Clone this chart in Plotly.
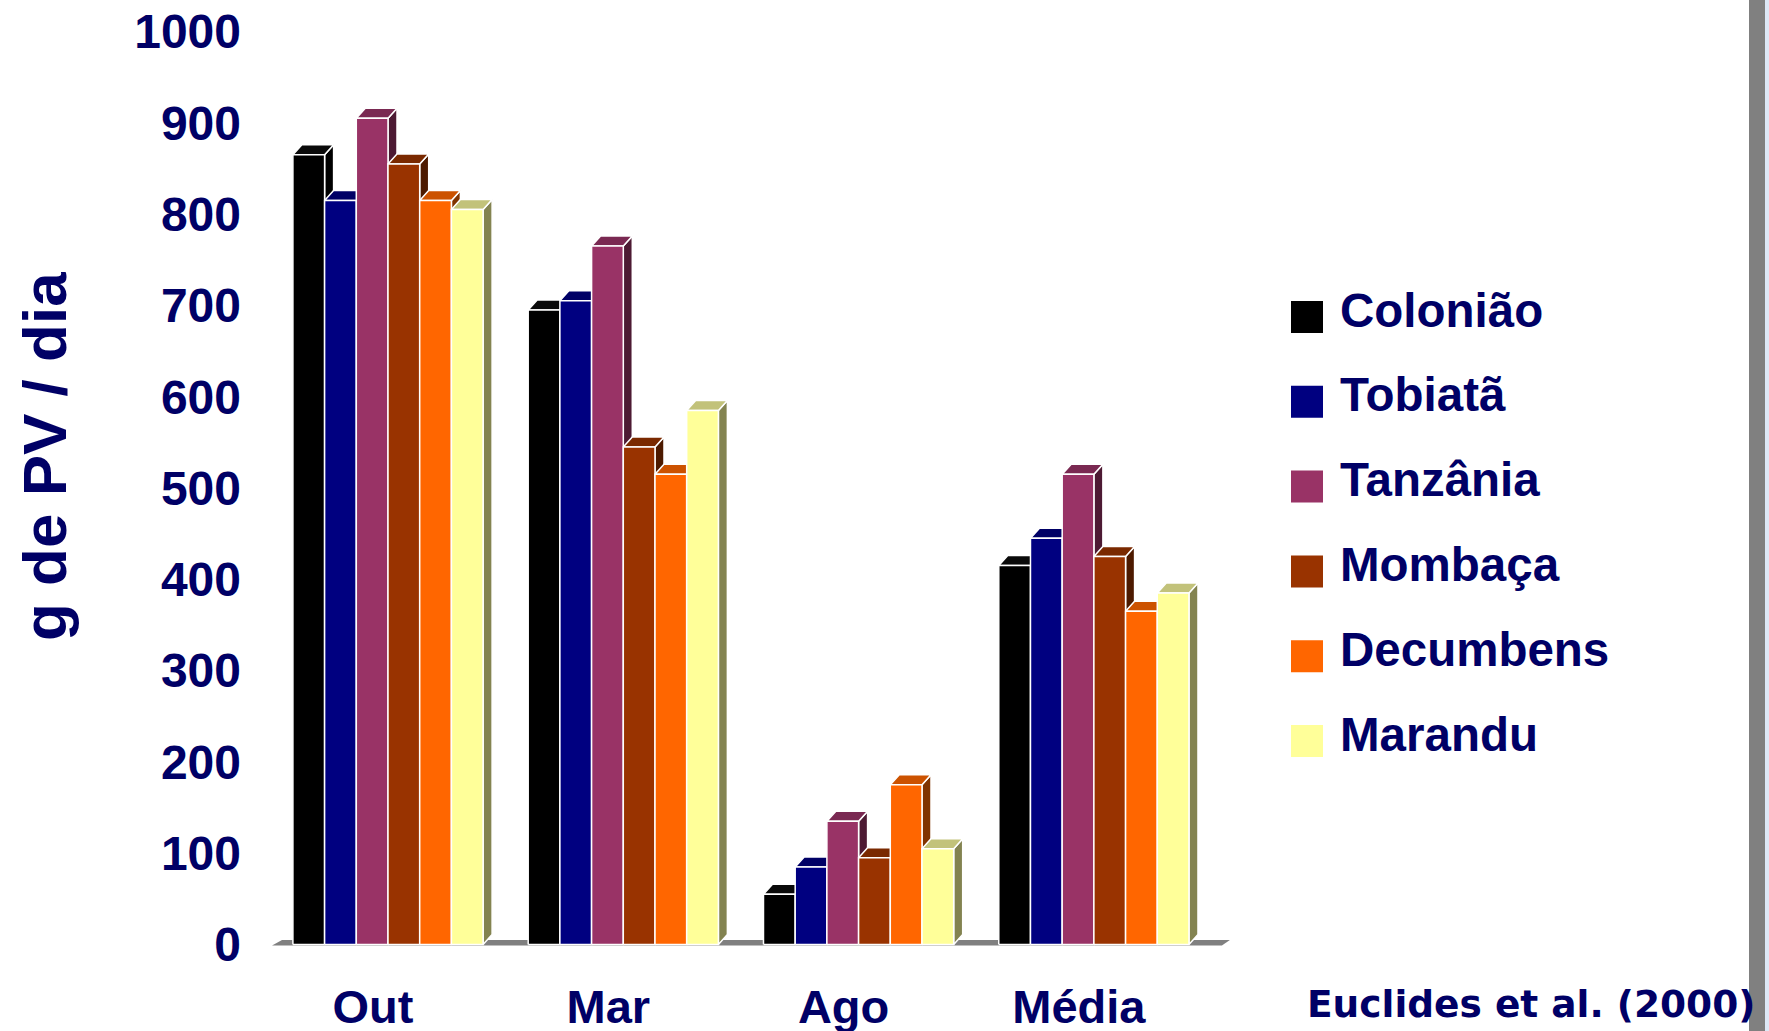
import plotly.graph_objects as go

# ---- data -------------------------------------------------------------
categories = ["Out", "Mar", "Ago", "Média"]
series_names = ["Colonião", "Tobiatã", "Tanzânia", "Mombaça", "Decumbens", "Marandu"]
coloniao = [865, 695, 55, 415]
tobiata = [815, 705, 85, 445]
tanzania = [905, 765, 135, 515]
mombaca = [855, 545, 95, 425]
decumbens = [815, 515, 175, 365]
marandu = [805, 585, 105, 385]
y_ticks = list(range(0, 1001, 100))
y_title = "g de PV / dia"
source_note = "Euclides et al. (2000)"

series_values = [coloniao, tobiata, tanzania, mombaca, decumbens, marandu]

# ---- styles -----------------------------------------------------------
front_colors = ["#000000", "#000080", "#993366", "#993300", "#FF6600", "#FFFF99"]
top_colors = ["#0a0a0a", "#000066", "#7a2952", "#7a2900", "#cc5200", "#c2c27a"]
side_colors = ["#000000", "#000040", "#4d1a33", "#4d1a00", "#803300", "#838350"]
navy = "#000066"
font_main = "Liberation Sans, Arial, sans-serif"

FIG_W, FIG_H = 1769, 1031
M_L, M_R, M_T, M_B = 260, 529, 22, 78
X_RANGE = [-0.544, 3.621]
Y_RANGE = [-9.3, 1010.4]
plot_w = FIG_W - M_L - M_R
plot_h = FIG_H - M_T - M_B
px_x = plot_w / (X_RANGE[1] - X_RANGE[0])   # pixels per x unit
px_y = plot_h / (Y_RANGE[1] - Y_RANGE[0])   # pixels per y unit

bar_w = 31.7 / px_x
depth_x = 9 / px_x
depth_y = 10 / px_y
n_series = len(series_names)


def paper_x(px):
    return (px - M_L) / plot_w


def paper_y(py):
    return (FIG_H - M_B - py) / plot_h


def polys(points_list):
    xs, ys = [], []
    for pts in points_list:
        for x, y in pts + [pts[0]]:
            xs.append(x)
            ys.append(y)
        xs.append(None)
        ys.append(None)
    return xs, ys


fig = go.Figure()

# floor slab under the bars
f_left = -0.5 + 0.007
f_right = len(categories) - 1 + 0.5 + 0.044
fx, fy = polys([[(f_left, -1), (f_right, -1), (f_right + 8 / px_x, 5), (f_left + 10 / px_x, 5)]])
fig.add_trace(go.Scatter(x=fx, y=fy, mode="lines", fill="toself", fillcolor="#808080",
                         line=dict(width=0, color="#808080"), hoverinfo="skip", showlegend=False))

# 3D-style bars: side, top and front face per series
for i, (name, vals) in enumerate(zip(series_names, series_values)):
    sides, tops, fronts = [], [], []
    for g, v in enumerate(vals):
        xl = g - n_series / 2 * bar_w + i * bar_w
        xr = xl + bar_w
        sides.append([(xr, 0), (xr + depth_x, depth_y), (xr + depth_x, v + depth_y), (xr, v)])
        tops.append([(xl, v), (xr, v), (xr + depth_x, v + depth_y), (xl + depth_x, v + depth_y)])
        fronts.append([(xl, 0), (xr, 0), (xr, v), (xl, v)])
    for faces, col in ((sides, side_colors[i]), (tops, top_colors[i]), (fronts, front_colors[i])):
        xs, ys = polys(faces)
        fig.add_trace(go.Scatter(x=xs, y=ys, mode="lines", fill="toself", fillcolor=col,
                                 line=dict(color="white", width=1.5), name=name,
                                 hoverinfo="skip", showlegend=False))

# legend drawn as squares and labels
shapes = []
annotations = []
for i, name in enumerate(series_names):
    cy = 310 + i * 84.8
    shapes.append(dict(type="rect", xref="paper", yref="paper",
                       x0=paper_x(1291), x1=paper_x(1323),
                       y0=paper_y(cy + 23), y1=paper_y(cy - 9),
                       fillcolor=front_colors[i], line=dict(width=0)))
    annotations.append(dict(text=name, xref="paper", yref="paper",
                            x=paper_x(1338), y=paper_y(cy), xanchor="left", yanchor="middle",
                            showarrow=False,
                            font=dict(family=font_main, size=47.5, color=navy, weight="bold")))

# y-axis title
annotations.append(dict(text=y_title, xref="paper", yref="paper",
                        x=paper_x(44), y=paper_y(457), xanchor="center", yanchor="middle",
                        textangle=-90, showarrow=False,
                        font=dict(family=font_main, size=62, color=navy, weight="bold")))

# source note
annotations.append(dict(text=source_note, xref="paper", yref="paper",
                        x=paper_x(1305), y=paper_y(1004), xanchor="left", yanchor="middle",
                        showarrow=False,
                        font=dict(family="DejaVu Sans, Verdana, sans-serif", size=37.5,
                                  color=navy, weight="bold")))

# slide edge strip on the right
shapes.append(dict(type="rect", xref="paper", yref="paper", layer="above",
                   x0=paper_x(1749), x1=paper_x(1765), y0=paper_y(FIG_H), y1=paper_y(0),
                   fillcolor="#808080", line=dict(width=0)))
shapes.append(dict(type="rect", xref="paper", yref="paper", layer="above",
                   x0=paper_x(1765), x1=paper_x(FIG_W), y0=paper_y(FIG_H), y1=paper_y(0),
                   fillcolor="#dde8f6", line=dict(width=0)))

fig.update_layout(
    width=FIG_W, height=FIG_H,
    margin=dict(l=M_L, r=M_R, t=M_T, b=M_B, pad=0, autoexpand=False),
    paper_bgcolor="white", plot_bgcolor="white",
    showlegend=False,
    shapes=shapes,
    annotations=annotations,
    xaxis=dict(range=X_RANGE, showgrid=False, zeroline=False, showline=False, ticks="",
               automargin=False,
               tickvals=[g - 15 / px_x for g in range(len(categories))],
               ticktext=categories, ticklabelstandoff=22,
               tickfont=dict(family=font_main, size=47, color=navy, weight="bold")),
    yaxis=dict(range=Y_RANGE, showgrid=False, zeroline=False, showline=False, ticks="",
               automargin=False,
               tickvals=y_ticks, ticklabelstandoff=18,
               tickfont=dict(family=font_main, size=48, color=navy, weight="bold")),
)

fig.write_html("out.html")
